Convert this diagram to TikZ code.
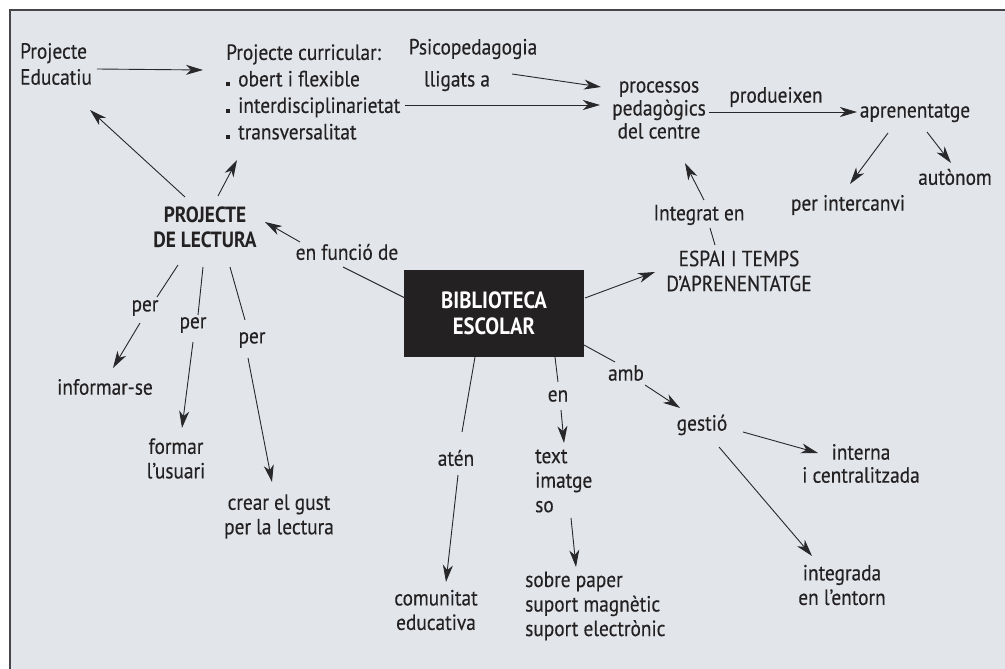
\documentclass[tikz,border=0pt]{standalone}
\usepackage{fontspec}
\setmainfont{PT Sans}[FakeStretch=0.88, UprightFeatures={FakeBold=0.3}, BoldFeatures={FakeBold=0}]
\usetikzlibrary{arrows.meta}
\definecolor{bg}{RGB}{226,229,234}
\definecolor{ink}{RGB}{35,33,34}
\definecolor{lc}{RGB}{40,40,42}
\definecolor{framec}{RGB}{70,70,74}
\newcommand{\bulsq}{\rule{4pt}{4pt}\hspace{8pt}}
\begin{document}
\begin{tikzpicture}[x=1pt,y=-1pt,
  t/.style={inner sep=0pt, text=ink, font=\fontsize{22}{24.5}\selectfont},
  box/.style={fill=ink, text=white, minimum width=180pt, minimum height=87pt, inner sep=0pt, align=center, font=\bfseries\fontsize{23.5}{26}\selectfont},
  ln/.style={draw=lc, line width=0.9pt},
  arr/.style={ln, -{Stealth[length=17pt,width=10pt,inset=5pt]}}]
\useasboundingbox (0,0) rectangle (1005,669);
\fill[white] (0,0) rectangle (1005,669);
\fill[bg] (10,10) rectangle (1005,669);
\draw[framec, line width=1.8pt] (10,669) -- (10,10) -- (1005,10);

% nodes
\node[t, anchor=west, align=left, font=\fontsize{22}{26}\selectfont] (pe) at (20,64) {Projecte\\Educatiu};
\node[t, anchor=west, align=left, font=\fontsize{22}{26.5}\selectfont] (pc) at (226,92) {Projecte curricular:\\\bulsq obert i flexible\\\bulsq interdisciplinarietat\\\bulsq transversalitat};
\node[t] (psi) at (473,49) {Psicopedagogia};
\node[t] (lli) at (457,81) {lligats a};
\node[t, align=center, font=\fontsize{22}{23}\selectfont] (proc) at (659,110) {processos\\pedagògics\\del centre};
\node[t] (prod) at (776,97) {produeixen};
\node[t] (apr) at (915,113) {aprenentatge};
\node[t] (pint) at (848,205) {per intercanvi};
\node[t] (aut) at (955,177) {autònom};
\node[t] (integ) at (699,215) {Integrat en};
\node[t, align=center, font=\fontsize{22}{25}\selectfont] (espai) at (739,271) {ESPAI I TEMPS\\D'APRENENTATGE};
\node[box] (bib) at (494,313.5) {BIBLIOTECA\\ESCOLAR};
\node[t, align=center, font=\bfseries\fontsize{22}{25}\selectfont] (pl) at (205,227.5) {PROJECTE\\DE LECTURA};
\node[t] (fun) at (347,252) {en funció de};
\node[t] (per1) at (145,308) {per};
\node[t] (per2) at (193,325) {per};
\node[t] (per3) at (252,340) {per};
\node[t] (inf) at (105,387) {informar-se};
\node[t, align=center] (form) at (176,458.5) {formar\\l'usuari};
\node[t, align=center] (crear) at (279,516.5) {crear el gust\\per la lectura};
\node[t] (aten) at (456,458) {atén};
\node[t, align=center] (com) at (436,610) {comunitat\\educativa};
\node[t] (en) at (558,396) {en};
\node[t, anchor=west, align=left] (tis) at (535,481) {text\\imatge\\so};
\node[t, anchor=west, align=left] (sup) at (525,606) {sobre paper\\suport magnètic\\suport electrònic};
\node[t] (amb) at (626,373) {amb};
\node[t] (gest) at (702,425) {gestió};
\node[t, align=center, font=\fontsize{22}{23}\selectfont] (intern) at (861,463.5) {interna\\i centralitzada};
\node[t, align=center] (integr) at (842,585) {integrada\\en l'entorn};

% connectors
\draw[arr] ([shift={(77,5)}]pe.west) -- ([shift={(-23,-22)}]pc.west);
\draw[arr] ([shift={(-20,-30.5)}]pl.center) -- ([shift={(70,46)}]pe.west);
\draw[arr] ([shift={(13,-31.5)}]pl.center) -- ([shift={(11,68)}]pc.west);
\draw[arr] ([shift={(55,-7)}]lli.center) -- ([shift={(-58,-23)}]proc.center);
\draw[arr] ([shift={(179,13)}]pc.west) -- ([shift={(-59,-5)}]proc.center);
\draw[arr] ([shift={(50,2)}]proc.center) -- ([shift={(-58,-1)}]apr.center);
\draw[arr] ([shift={(-27,20)}]apr.center) -- ([shift={(2,-21)}]pint.center);
\draw[arr] ([shift={(12,19)}]apr.center) -- ([shift={(-4,-14)}]aut.center);
\draw[ln] ([shift={(-24,-26)}]espai.center) -- ([shift={(11,13)}]integ.center);
\draw[arr] ([shift={(5,-15)}]integ.center) -- ([shift={(26,53)}]proc.center);
\draw[arr] ([shift={(91,-15.5)}]bib.center) -- ([shift={(-84,1)}]espai.center);
\draw[ln] ([shift={(-89,-15.5)}]bib.center) -- ([shift={(-4,15)}]fun.center);
\draw[arr] ([shift={(-47,-10)}]fun.center) -- ([shift={(60,-5.5)}]pl.center);
\draw[ln] ([shift={(-27,37.5)}]pl.center) -- ([shift={(12,-11)}]per1.center);
\draw[arr] ([shift={(-5,15)}]per1.center) -- ([shift={(8,-19)}]inf.center);
\draw[ln] ([shift={(-2,39.5)}]pl.center) -- ([shift={(5,-10)}]per2.center);
\draw[arr] ([shift={(0,17)}]per2.center) -- ([shift={(6,-30.5)}]form.center);
\draw[ln] ([shift={(25,39.5)}]pl.center) -- ([shift={(-7,-20)}]per3.center);
\draw[arr] ([shift={(-4,18)}]per3.center) -- ([shift={(-7,-34.5)}]crear.center);
\draw[ln] ([shift={(-19,43.5)}]bib.center) -- ([shift={(6,-26)}]aten.center);
\draw[arr] ([shift={(2,17)}]aten.center) -- ([shift={(10,-28)}]com.center);
\draw[ln] ([shift={(61,43.5)}]bib.center) -- ([shift={(0,-14)}]en.center);
\draw[arr] ([shift={(3,14)}]en.center) -- ([shift={(29,-38)}]tis.west);
\draw[arr] ([shift={(36,37)}]tis.west) -- ([shift={(51,-39)}]sup.west);
\draw[ln] ([shift={(90,31.5)}]bib.center) -- ([shift={(-11,-11)}]amb.center);
\draw[arr] ([shift={(19,12)}]amb.center) -- ([shift={(-22,-17)}]gest.center);
\draw[arr] ([shift={(41,7)}]gest.center) -- ([shift={(-43,-10.5)}]intern.center);
\draw[arr] ([shift={(17,22)}]gest.center) -- ([shift={(-30,-29)}]integr.center);
\end{tikzpicture}
\end{document}
